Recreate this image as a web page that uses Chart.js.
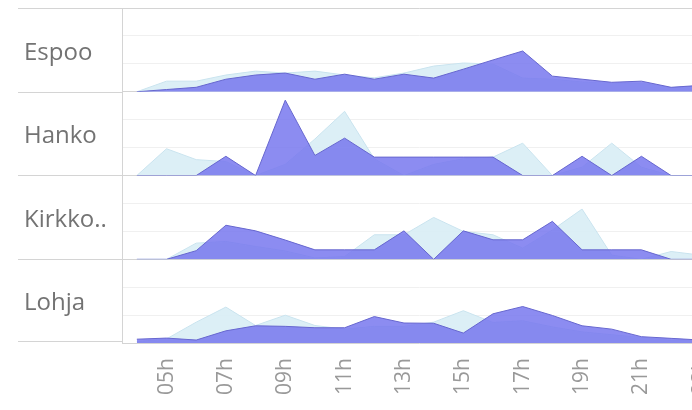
<!DOCTYPE html>
<html>
<head>
<meta charset="utf-8">
<script src="https://cdn.jsdelivr.net/npm/chart.js@4"></script>
<style>
  html, body { margin: 0; padding: 0; background: #fff; overflow: hidden; width: 692px; height: 410px; }
  #wrap { position: absolute; left: 0; top: 0; width: 741px; height: 410px; }
  .rows { position: absolute; left: 18px; top: 8px; width: 104px; }
  .row { height: 83.5px; box-sizing: border-box; border-top: 1px solid #d4d4d4; display: flex; align-items: center;
         padding-left: 6px; font: 24px 'Open Sans', sans-serif; color: #737373; }
  .row:last-child { border-bottom: 1px solid #d4d4d4; }
</style>
</head>
<body>
<div id="wrap"><canvas id="hourChart"></canvas></div>
<div class="rows" id="rows"></div>
<script>
// tunnit (x-akseli)
var hours = ['04h', '05h', '06h', '07h', '08h', '09h', '10h', '11h', '12h', '13h',
             '14h', '15h', '16h', '17h', '18h', '19h', '20h', '21h', '22h', '23h'];

// kunnat (rivit)
var towns = ['Espoo', 'Hanko', 'Kirkko..', 'Lohja'];

// violetti sarja
var espooMain  = [0, 0.8, 1.6, 4.5, 6, 6.7, 4.5, 6.3, 4.5, 6.3, 4.9, 8.1, 11.4, 14.6, 5.6, 4.5, 3.4, 3.8, 1.6, 2.3];
var hankoMain  = [0, 0, 0, 6.9, 0, 27, 7.2, 13.4, 6.6, 6.6, 6.6, 6.6, 6.6, 0, 0, 6.9, 0, 6.9, 0, 0];
var kirkkoMain = [0, 0, 3.1, 12.2, 10.2, 6.9, 3.4, 3.4, 3.4, 10.2, 0, 10.2, 7, 7, 13.6, 3.4, 3.4, 3.4, 0, 0];
var lohjaMain  = [1.4, 1.8, 1.1, 4.4, 6.2, 6, 5.5, 5.5, 9.5, 7.2, 7.1, 3.6, 10.5, 13.1, 9.9, 6.2, 5, 2.3, 1.7, 1.1];

// vaaleansininen sarja (vertailu)
var espooRef  = [0, 3.8, 3.8, 6, 7.4, 6.7, 7.4, 6, 5, 6.7, 9.2, 10.3, 9.9, 4.9, 4.5, 3.5, 3, 3, 1.5, 2];
var hankoRef  = [0, 9.6, 5.7, 5, 0, 4, 13.1, 23, 6, 0, 4, 6, 6.6, 11.6, 0, 3, 11.6, 3, 0, 0];
var kirkkoRef = [0, 0, 5.8, 6.4, 4.6, 3, 0.5, 1, 8.8, 8.8, 15, 10, 8.8, 4, 10.5, 18, 1.5, 0, 2.8, 1.5];
var lohjaRef  = [0.5, 1.5, 7.5, 12.9, 6.3, 10, 6.3, 5, 6, 6, 7.5, 11.6, 7.4, 8, 5.8, 4, 3, 2, 1, 1];

var mainSeries = [espooMain, hankoMain, kirkkoMain, lohjaMain];
var refSeries = [espooRef, hankoRef, kirkkoRef, lohjaRef];

var yMax = 30;

// rivien nimet vasemmalle
var rowsEl = document.getElementById('rows');
towns.forEach(function (t) {
  var d = document.createElement('div');
  d.className = 'row';
  d.textContent = t;
  rowsEl.appendChild(d);
});

var datasets = [];
var scales = {
  x: {
    type: 'category',
    offset: true,
    grid: { display: false, drawTicks: false },
    border: { display: false },
    ticks: {
      autoSkip: false,
      maxRotation: 90,
      minRotation: 90,
      padding: 15,
      color: '#999999',
      font: { family: 'Open Sans', size: 21 },
      callback: function (val, i) { return i % 2 === 1 ? this.getLabelForValue(val) : ''; }
    }
  }
};

towns.forEach(function (t, k) {
  datasets.push({
    label: t,
    data: mainSeries[k],
    yAxisID: 'y' + k,
    order: 1,
    fill: 'origin',
    backgroundColor: 'rgba(120, 120, 238, 0.85)',
    borderColor: '#6767cf',
    borderWidth: 1,
    pointRadius: 0,
    tension: 0
  });
  datasets.push({
    label: t + ' ref',
    data: refSeries[k],
    yAxisID: 'y' + k,
    order: 2,
    fill: 'origin',
    backgroundColor: 'rgba(216, 237, 245, 0.9)',
    borderColor: 'rgba(202, 228, 239, 1)',
    borderWidth: 1,
    pointRadius: 0,
    tension: 0
  });
});

// pinotut y-akselit: viimeksi määritelty tulee ylimmäksi
for (var k = towns.length - 1; k >= 0; k--) {
  scales['y' + k] = {
    type: 'linear',
    position: 'left',
    stack: 'rows',
    stackWeight: 1,
    min: 0,
    max: yMax,
    ticks: { display: false, stepSize: 10 },
    grid: {
      drawTicks: false,
      color: function (c) {
        return (c.tick && (c.tick.value === 0 || c.tick.value === yMax)) ? '#d4d4d4' : '#f0f0f0';
      }
    },
    border: { display: true, color: '#d4d4d4' },
    afterFit: function (a) { a.width = 122; }
  };
}

new Chart(document.getElementById('hourChart'), {
  type: 'line',
  data: { labels: hours, datasets: datasets },
  options: {
    responsive: true,
    maintainAspectRatio: false,
    animation: false,
    layout: { padding: { top: 8, bottom: 0, left: 0, right: 0 } },
    plugins: { legend: { display: false }, tooltip: { enabled: false } },
    scales: scales
  }
});
</script>
</body>
</html>
